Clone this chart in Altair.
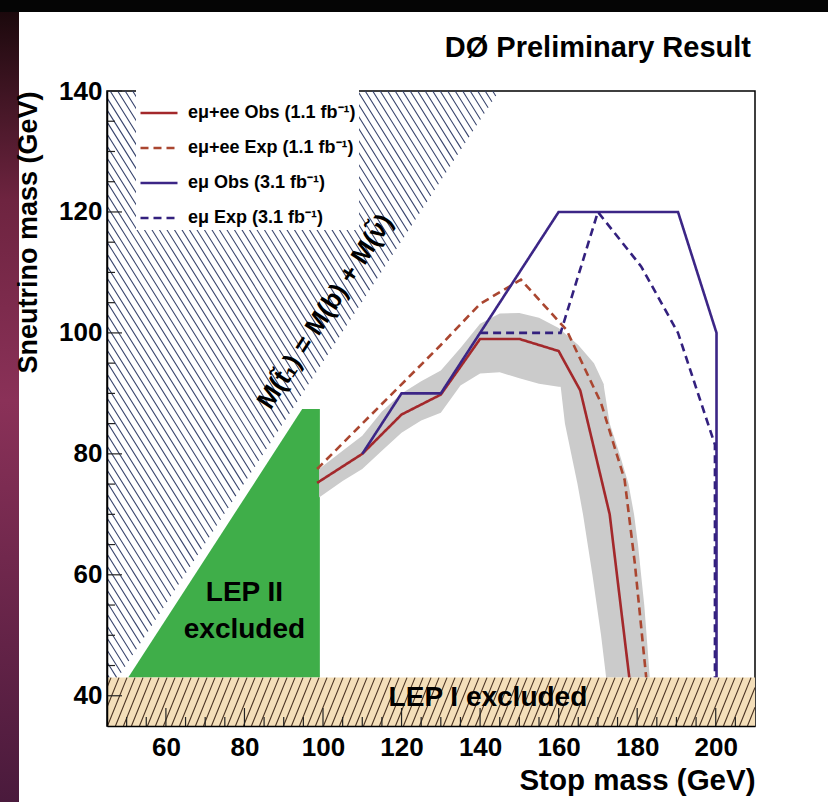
import altair as alt
import numpy as np
import pandas as pd

FONT = "Liberation Sans"

# ---------------- axes ----------------
X_DOMAIN = [45, 210]
Y_DOMAIN = [35, 140]
x_major = [60, 80, 100, 120, 140, 160, 180, 200]
x_minor = [50, 55, 65, 70, 75, 85, 90, 95, 105, 110, 115, 125, 130, 135,
           145, 150, 155, 165, 170, 175, 185, 190, 195, 205]
y_major = [40, 60, 80, 100, 120, 140]
y_minor = [45, 50, 55, 65, 70, 75, 85, 90, 95, 105, 110, 115, 125, 130, 135]

# ---------------- limit curves ----------------
series_names = ["eμ+ee Obs (1.1 fb⁻¹)", "eμ+ee Exp (1.1 fb⁻¹)",
                "eμ Obs (3.1 fb⁻¹)", "eμ Exp (3.1 fb⁻¹)"]
series_colors = ["#a3282b", "#aa4630", "#3c2686", "#33207e"]
series_dash = [[1, 0], [8, 5], [1, 0], [8, 5]]

obs11_x = [98.5, 110, 120, 130, 140, 150, 160, 165.5, 173, 175.5, 178]
obs11_y = [75.2, 80, 86.5, 89.8, 99, 99, 97, 90.5, 70, 56.5, 43]
exp11_x = [98.5, 110, 120, 130, 140, 150.4, 162, 170.8, 176.8, 179.4, 182.3]
exp11_y = [77.5, 85, 91.5, 98, 104.8, 108.8, 100.5, 88.4, 75.7, 61.9, 43]
obs31_x = [110, 120, 130, 160, 190.4, 200.2, 200.2]
obs31_y = [80, 90, 90, 120, 120, 100, 43]
exp31_x = [140, 160.5, 170, 181, 190.4, 199.8, 199.8]
exp31_y = [100, 100, 120, 111, 100, 81.5, 43]

# expected-limit +-1 sigma band (rising part, x based)
band_a_x = [99, 105, 110, 115, 120, 125, 130, 135, 140, 145, 150, 155, 160, 165, 169, 171.5]
band_a_lo = [72.8, 75.5, 77.5, 80.5, 83.5, 85.5, 86.8, 91.3, 93.3, 93.5, 92.5, 91.6, 91.1, 91, 91, 91]
band_a_hi = [77.5, 80.5, 83, 87, 90, 92, 93.8, 97.5, 101.5, 103.2, 103.3, 102.5, 100.8, 98, 95, 91.5]
# falling part (y based)
band_b_y = [43, 50, 55, 60, 65, 70, 75, 80, 85, 91.2]
band_b_left = [172.1, 170.8, 169.7, 168.6, 167.4, 166.2, 164.8, 163.2, 161.6, 160.5]
band_b_right = [183.2, 182.4, 181.8, 181, 180.2, 179.2, 177.8, 175.5, 173, 171.5]

# LEP II excluded region
lep2_x = [50.4, 94.7, 99.2]
lep2_top = [43, 87.4, 87.4]
LEP1_LIMIT = 43.0          # LEP I sneutrino limit
MB = 4.8                   # M(b): kinematic line M(stop) = M(b) + M(snu)

W, H = 648, 635

lines = []
for name, xs, ys in zip(series_names, [obs11_x, exp11_x, obs31_x, exp31_x],
                        [obs11_y, exp11_y, obs31_y, exp31_y]):
    for i, (a, b) in enumerate(zip(xs, ys)):
        lines.append({"series": name, "g": a, "m": b, "i": i})
df_lines = pd.DataFrame(lines)

df_band_a = pd.DataFrame({"g": band_a_x, "lo": band_a_lo, "hi": band_a_hi})
df_band_b = pd.DataFrame({"m": band_b_y, "l": band_b_left, "r": band_b_right})
df_lep2 = pd.DataFrame({"g": lep2_x, "top": lep2_top, "bot": [LEP1_LIMIT] * 3})

# ---------------- hatch decoration ----------------
kx = W / (X_DOMAIN[1] - X_DOMAIN[0])
ky = H / (Y_DOMAIN[1] - Y_DOMAIN[0])

hatch_kin = []
s1 = np.tan(np.radians(58)) * kx / ky
step1 = s1 * 7.5 / kx
a = LEP1_LIMIT + s1 * X_DOMAIN[0] + step1 * 0.3
a_max = Y_DOMAIN[1] + s1 * (Y_DOMAIN[1] + MB)
while a < a_max:
    g_lo = max(X_DOMAIN[0], (a - Y_DOMAIN[1]) / s1)
    g_hi = min((a - LEP1_LIMIT) / s1, (a + MB) / (1 + s1))
    if g_hi > g_lo:
        hatch_kin.append({"g1": g_lo, "m1": a - s1 * g_lo, "g2": g_hi, "m2": a - s1 * g_hi})
    a += step1
df_hk = pd.DataFrame(hatch_kin)

hatch_lep1 = []
s2 = np.tan(np.radians(68)) * kx / ky
dg = (LEP1_LIMIT - Y_DOMAIN[0]) / s2
step2 = 8.0 / kx
g0 = X_DOMAIN[0] - dg + step2 * 0.5
while g0 < X_DOMAIN[1]:
    gs, ms = g0, Y_DOMAIN[0]
    ge, me = g0 + dg, LEP1_LIMIT
    if gs < X_DOMAIN[0]:
        gs, ms = X_DOMAIN[0], Y_DOMAIN[0] + s2 * (X_DOMAIN[0] - g0)
    if ge > X_DOMAIN[1]:
        ge, me = X_DOMAIN[1], Y_DOMAIN[0] + s2 * (X_DOMAIN[1] - g0)
    if ge > gs:
        hatch_lep1.append({"g1": gs, "m1": ms, "g2": ge, "m2": me})
    g0 += step2
df_h1 = pd.DataFrame(hatch_lep1)

# inside tick marks (ROOT style)
ticks = []
for v in x_major:
    ticks.append({"g1": v, "g2": v, "m1": Y_DOMAIN[0], "m2": Y_DOMAIN[0] + 18 / ky})
for v in x_minor:
    ticks.append({"g1": v, "g2": v, "m1": Y_DOMAIN[0], "m2": Y_DOMAIN[0] + 9 / ky})
for v in y_major:
    ticks.append({"g1": X_DOMAIN[0], "g2": X_DOMAIN[0] + 15 / kx, "m1": v, "m2": v})
for v in y_minor:
    ticks.append({"g1": X_DOMAIN[0], "g2": X_DOMAIN[0] + 8 / kx, "m1": v, "m2": v})
df_ticks = pd.DataFrame(ticks)

xs_ = alt.Scale(domain=X_DOMAIN, nice=False, zero=False)
ys_ = alt.Scale(domain=Y_DOMAIN, nice=False, zero=False)

lab = dict(labelFont=FONT, labelFontSize=26, labelFontWeight="bold", labelColor="black",
           labelFlush=False, labelOverlap=False)
ttl = dict(titleFont=FONT, titleFontWeight="bold", titleColor="black")

x_main = alt.Axis(values=x_major, ticks=False, tickSize=0, domain=True, domainColor="black",
                  domainWidth=1.5, labelPadding=8, grid=False, zindex=2, orient="bottom",
                  title="Stop mass (GeV)", titleX=W, titleY=54, titleAlign="right",
                  titleBaseline="middle", titleAngle=0, titleFontSize=29.5, **lab, **ttl)
y_main = alt.Axis(values=y_major, ticks=False, tickSize=0, domain=True, domainColor="black",
                  domainWidth=1.5, labelPadding=5, grid=False, zindex=2, orient="left",
                  title="Sneutrino mass (GeV)", titleX=-79, titleY=0, titleAlign="right",
                  titleBaseline="middle", titleAngle=270, titleFontSize=27, **lab, **ttl)

one = pd.DataFrame({"k": [0]})

# photo frame decoration (dark slide background strips)
left_strip = alt.Chart(one).mark_rect(
    color=alt.LinearGradient(gradient="linear", x1=0, x2=0, y1=0, y2=1,
                             stops=[alt.GradientStop(color="#160709", offset=0),
                                    alt.GradientStop(color="#6e2440", offset=0.25),
                                    alt.GradientStop(color="#8a3158", offset=0.5),
                                    alt.GradientStop(color="#4a1a3c", offset=1)])
).encode(x=alt.value(-107), x2=alt.value(-88), y=alt.value(-91), y2=alt.value(711))
top_strip = alt.Chart(one).mark_rect(color="#050505").encode(
    x=alt.value(-107), x2=alt.value(721), y=alt.value(-91), y2=alt.value(-79))

title_df = pd.DataFrame({"t": ["DØ Preliminary Result"]})
title_txt = alt.Chart(title_df).mark_text(
    font=FONT, fontSize=29, fontWeight="bold", color="black", align="right",
    baseline="middle").encode(x=alt.value(W - 4), y=alt.value(-43), text="t:N")

hk = alt.Chart(df_hk).mark_rule(color="#34406a", strokeWidth=1.05).encode(
    x=alt.X("g1:Q", scale=xs_, axis=x_main), x2="g2:Q",
    y=alt.Y("m1:Q", scale=ys_, axis=y_main), y2="m2:Q")

lep2 = alt.Chart(df_lep2).mark_area(color="#3fae49", opacity=1).encode(
    x=alt.X("g:Q", scale=xs_, axis=None),
    y=alt.Y("top:Q", scale=ys_, axis=None), y2="bot:Q")

band_a = alt.Chart(df_band_a).mark_area(color="#cbcbcb").encode(
    x=alt.X("g:Q", scale=xs_, axis=None),
    y=alt.Y("lo:Q", scale=ys_, axis=None), y2="hi:Q")
band_b = alt.Chart(df_band_b).mark_area(color="#cbcbcb", orient="horizontal").encode(
    y=alt.Y("m:Q", scale=ys_, axis=None),
    x=alt.X("l:Q", scale=xs_, axis=None), x2="r:Q")

leg = alt.Legend(orient="none", legendX=29, legendY=-1, title=None, symbolType="stroke",
                 symbolSize=1370, symbolStrokeWidth=2.6, labelFont=FONT, labelFontSize=18,
                 labelFontWeight="bold", labelColor="black", fillColor="white", padding=3,
                 rowPadding=6, labelOffset=9, symbolOpacity=1, labelLimit=400)

curves = alt.Chart(df_lines).mark_line(strokeWidth=2.6).encode(
    x=alt.X("g:Q", scale=xs_, axis=None),
    y=alt.Y("m:Q", scale=ys_, axis=None),
    color=alt.Color("series:N", scale=alt.Scale(domain=series_names, range=series_colors),
                    legend=leg),
    strokeDash=alt.StrokeDash("series:N",
                              scale=alt.Scale(domain=series_names, range=series_dash),
                              legend=leg),
    order="i:Q")

lep1_df = pd.DataFrame({"g1": [X_DOMAIN[0]], "g2": [X_DOMAIN[1]],
                        "m1": [Y_DOMAIN[0]], "m2": [LEP1_LIMIT]})
lep1 = alt.Chart(lep1_df).mark_rect(color="#f4dfba").encode(
    x=alt.X("g1:Q", scale=xs_, axis=None), x2="g2:Q",
    y=alt.Y("m1:Q", scale=ys_, axis=None), y2="m2:Q")
h1 = alt.Chart(df_h1).mark_rule(color="#4a3322", strokeWidth=1.1).encode(
    x=alt.X("g1:Q", scale=xs_, axis=None), x2="g2:Q",
    y=alt.Y("m1:Q", scale=ys_, axis=None), y2="m2:Q")

tick_marks = alt.Chart(df_ticks).mark_rule(color="#222222", strokeWidth=1.2).encode(
    x=alt.X("g1:Q", scale=xs_, axis=None), x2="g2:Q",
    y=alt.Y("m1:Q", scale=ys_, axis=None), y2="m2:Q")


def label(txt, g, m, size=27, angle=0):
    d = pd.DataFrame({"g": [g], "m": [m], "t": [txt]})
    return alt.Chart(d).mark_text(font=FONT, fontSize=size, fontWeight="bold", color="black",
                                  angle=angle, align="center", baseline="middle").encode(
        x=alt.X("g:Q", scale=xs_, axis=None), y=alt.Y("m:Q", scale=ys_, axis=None), text="t:N")


t_kin = label("M(t̃₁) = M(b) + M(ν̃)", 100.6, 103.5, size=26, angle=303)
t_lep2a = label("LEP II", 80, 57.0, size=28)
t_lep2b = label("excluded", 80, 50.8, size=28)
t_lep1 = label("LEP I excluded", 142, 39.6, size=28)

chart = alt.layer(
    left_strip, top_strip, title_txt, hk, lep2, band_a, band_b, curves, lep1, h1,
    tick_marks, t_kin, t_lep2a, t_lep2b, t_lep1
).resolve_axis(x="independent", y="independent").properties(
    width=W, height=H,
    autosize=alt.AutoSizeParams(type="none"),
    padding={"left": 107, "top": 91, "right": 73, "bottom": 76},
    background="white",
).configure_view(stroke="black", strokeWidth=1.5)

chart.save("out.html", embed_options={"renderer": "svg", "actions": False})
